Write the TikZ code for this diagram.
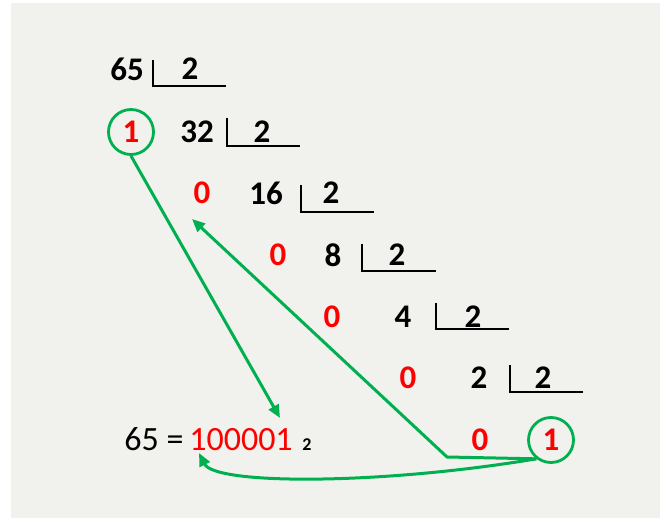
\documentclass[tikz,border=0pt]{standalone}
\usepackage{fontspec}
\setmainfont{Carlito}
\usetikzlibrary{arrows.meta}
\definecolor{bg}{HTML}{F1F1ED}
\definecolor{grn}{HTML}{00B050}
\definecolor{rd}{HTML}{FF0000}
\begin{document}
\begin{tikzpicture}[x=1pt,y=-1pt,
 num/.style={font=\fontsize{33}{35}\selectfont\bfseries, inner sep=0pt, text=black},
 rem/.style={num, text=rd},
 circ/.style={rem, draw=grn, line width=2.8pt, circle, minimum size=45pt},
 res/.style={font=\fontsize{34}{36}\selectfont, inner sep=0pt, anchor=base},
 brk/.style={line width=2.2pt, black},
 arr/.style={draw=grn, line width=3pt, -{Triangle[length=13pt,width=11pt]}, line join=round},
]
\useasboundingbox (0,0) rectangle (660,518);
\fill[white] (0,0) rectangle (660,518);
\fill[bg] (11,3) rectangle (660,518);

% row 1
\node[num] (n65) at (127,69) {65};
\node[num] (d1) at (190,69) {2};
\draw[brk] (153,60) |- (226,86);
% row 2
\node[circ] (c1) at (131,132) {1};
\node[num] (n32) at (197,132) {32};
\node[num] (d2) at (262,132) {2};
\draw[brk] (227,118) |- (300,146);
% row 3
\node[rem] (r3) at (202,193) {0};
\node[num] (n16) at (266,193) {16};
\node[num] (d3) at (331,193) {2};
\draw[brk] (301,185) |- (374,212);
% row 4
\node[rem] (r4) at (278,255) {0};
\node[num] (n8) at (333,255) {8};
\node[num] (d4) at (397,255) {2};
\draw[brk] (362,244) |- (436,271);
% row 5
\node[rem] (r5) at (332,317) {0};
\node[num] (n4) at (403,317) {4};
\node[num] (d5) at (473,317) {2};
\draw[brk] (436,303) |- (509,329);
% row 6
\node[rem] (r6) at (408,378) {0};
\node[num] (n2) at (479,378) {2};
\node[num] (d6) at (543,378) {2};
\draw[brk] (510,365) |- (583,392);
% row 7
\node[rem] (r7) at (480,440) {0};
\node[circ] (c7) at (551,440) {1};

% result
\node[res] (lhs) at (154,450) {65 =};
\node[res, text=rd] (bin) at (241,450) {100001};
\node[font=\fontsize{18}{19}\selectfont\bfseries, inner sep=0pt, anchor=base] (sub) at (307,450) {2};

% arrows
\coordinate (t1) at (280,418);
\coordinate (k2) at (447,457);
\coordinate (t2) at (192,219);
\coordinate (t3) at (199,453);
\draw[arr] (c1.south) -- (t1);
\draw[arr] (c7.232) -- (k2) -- (t2);
\draw[arr] (c7.232) .. controls (380,485) and (215,485) .. (t3);
\end{tikzpicture}
\end{document}
